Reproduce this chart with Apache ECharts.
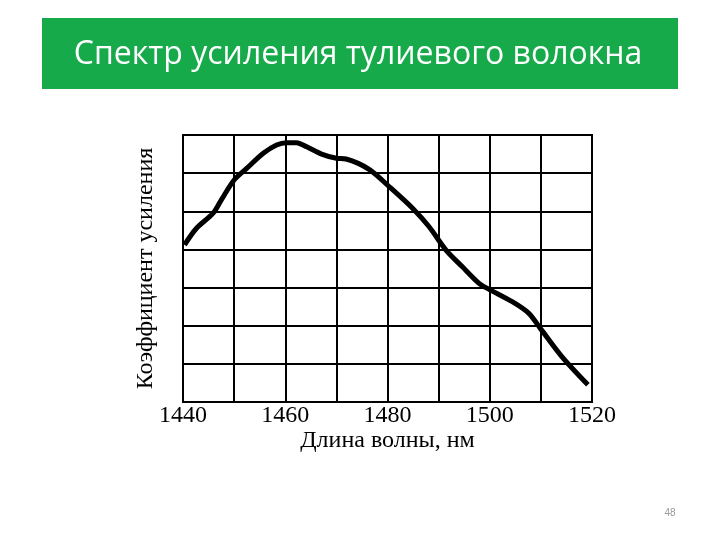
<!DOCTYPE html>
<html>
<head>
<meta charset="utf-8">
<script src="https://cdn.jsdelivr.net/npm/echarts@6/dist/echarts.min.js"></script>
<style>
  html, body { margin: 0; padding: 0; background: #fff; }
  #main { width: 720px; height: 540px; }
</style>
</head>
<body>
<div id="main"></div>
<script>
// длина волны, нм
var wavelength = [1440.3, 1442.6, 1445.9, 1447.5, 1450, 1452.5, 1455.7, 1458.3, 1460.3, 1462.2,
  1464.2, 1467.1, 1470, 1471.9, 1476.4, 1480.3, 1484.9, 1488.1, 1491.4, 1494.6,
  1497.9, 1499.8, 1504.4, 1507.6, 1509.9, 1514.1, 1519.2];
// коэффициент усиления (в клетках сетки)
var gain = [4.12, 4.55, 4.95, 5.3, 5.82, 6.13, 6.52, 6.74, 6.8, 6.8,
  6.69, 6.5, 6.39, 6.37, 6.1, 5.65, 5.08, 4.6, 3.99, 3.55,
  3.11, 2.96, 2.63, 2.33, 1.93, 1.19, 0.45];
var xTickLabels = [1440, 1460, 1480, 1500, 1520];

var points = wavelength.map(function (w, i) { return [w, gain[i]]; });

var myChart = echarts.init(document.getElementById("main"));
var option = {
  backgroundColor: "#fff",
  animation: false,
  graphic: [
    {
      type: "rect",
      shape: { x: 42, y: 18, width: 636, height: 71 },
      style: { fill: "#17aa4b" },
      z: 0
    },
    {
      type: "text",
      x: 358,
      y: 55,
      style: {
        text: "Спектр усиления тулиевого волокна",
        fill: "#fff",
        font: "32px 'Open Sans', sans-serif",
        align: "center",
        verticalAlign: "middle"
      },
      z: 1
    },
    {
      type: "text",
      x: 670,
      y: 513,
      style: {
        text: "48",
        fill: "#999",
        font: "10px 'Liberation Sans', sans-serif",
        align: "center",
        verticalAlign: "middle"
      }
    }
  ],
  grid: {
    left: 183,
    right: 128,
    top: 135,
    bottom: 138,
    show: true,
    borderColor: "#000",
    borderWidth: 2
  },
  xAxis: {
    type: "value",
    min: 1440,
    max: 1520,
    interval: 10,
    name: "Длина волны, нм",
    nameLocation: "middle",
    nameGap: 26,
    nameTextStyle: { fontFamily: "Liberation Serif", fontSize: 24, color: "#000" },
    axisLine: { show: true, lineStyle: { color: "#000", width: 2 } },
    axisTick: { show: false },
    axisLabel: {
      margin: 2,
      fontFamily: "Liberation Serif",
      fontSize: 24,
      color: "#000",
      formatter: function (v) {
        return xTickLabels.indexOf(v) >= 0 ? String(v) : "";
      }
    },
    splitLine: { show: true, lineStyle: { color: "#000", width: 2 } }
  },
  yAxis: {
    type: "value",
    min: 0,
    max: 7,
    interval: 1,
    name: "Коэффициент усиления",
    nameLocation: "middle",
    nameGap: 25,
    nameTextStyle: { fontFamily: "Liberation Serif", fontSize: 24, color: "#000" },
    axisLine: { show: true, lineStyle: { color: "#000", width: 2 } },
    axisTick: { show: false },
    axisLabel: { show: false },
    splitLine: { show: true, lineStyle: { color: "#000", width: 2 } }
  },
  series: [
    {
      type: "line",
      data: points,
      smooth: 0.3,
      symbol: "none",
      lineStyle: { color: "#000", width: 5 }
    }
  ]
};
myChart.setOption(option);
</script>
</body>
</html>
